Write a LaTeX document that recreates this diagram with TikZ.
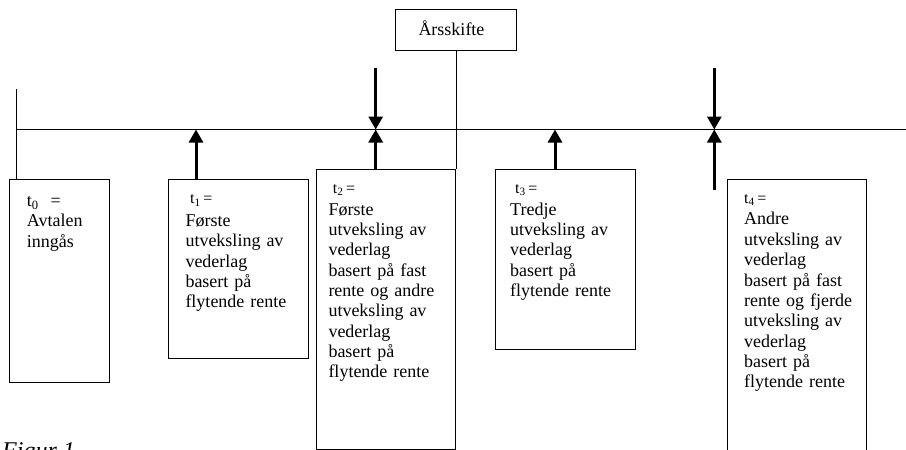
\documentclass[tikz,border=0pt]{standalone}
\usepackage{fontspec}
\setmainfont{Liberation Serif}
\usetikzlibrary{arrows.meta,calc}
\begin{document}
\begin{tikzpicture}[x=1pt,y=-1pt,
  box/.style={draw, line width=1pt, inner sep=0pt, anchor=north west},
  txt/.style={anchor=base west, inner sep=0pt, align=left, text width=125pt, font=\fontsize{18}{20.35}\selectfont},
  thickarrow/.style={line width=3pt, -{Triangle[length=13pt,width=14pt]}},
  thinline/.style={line width=1pt}]
\useasboundingbox (0,0) rectangle (906,450);
\clip (0,0) rectangle (906,450);
\newcommand{\tsz}{\fontsize{16}{20.35}\selectfont}
% boxes
\node[box, minimum width=120.4pt, minimum height=40.7pt] (aars) at (395.3,9.3) {};
\node[box, minimum width=100.2pt, minimum height=203pt] (t0box) at (8.5,179) {};
\node[box, minimum width=139.7pt, minimum height=179pt] (t1box) at (168,179) {};
\node[box, minimum width=139.3pt, minimum height=279.4pt] (t2box) at (316,169.3) {};
\node[box, minimum width=140pt, minimum height=179.7pt] (t3box) at (495,169.3) {};
\node[box, minimum width=139.3pt, minimum height=290pt] (t4box) at (726.7,179) {};
% texts
\node[txt] (aarstxt) at (418.3,35) {Årsskifte};
\node[txt] (t0txt) at (26.7,206.5) {t\textsubscript{0} \ =\\Avtalen\\inngås};
\node[txt] (t1txt) at (185.3,203.5) {\hspace*{4.7pt}{\tsz t\textsubscript{1}\,=}\\[2.6pt]Første\\utveksling av\\vederlag\\basert på\\flytende rente};
\node[txt] (t2txt) at (328.3,193.3) {\hspace*{4.4pt}{\tsz t\textsubscript{2}\,=}\\[1.4pt]Første\\utveksling av\\vederlag\\basert på fast\\rente og andre\\utveksling av\\vederlag\\basert på\\flytende rente};
\node[txt] (t3txt) at (510,193.3) {\hspace*{5pt}{\tsz t\textsubscript{3}\,=}\\[1.4pt]Tredje\\utveksling av\\vederlag\\basert på\\flytende rente};
\node[txt] (t4txt) at (744,203.3) {{\tsz t\textsubscript{4}\,=}\\[1.3pt]Andre\\utveksling av\\vederlag\\basert på fast\\rente og fjerde\\utveksling av\\vederlag\\basert på\\flytende rente};
\node[anchor=base west, inner sep=0pt, font=\fontsize{24}{28}\selectfont\itshape] (fig) at (2,458.6) {Figur 1};
% timeline and points
\coordinate (p0) at (16.5,129.5);
\coordinate (pend) at (906,129.5);
\coordinate (l0top) at (16.5,89);
\coordinate (p1) at (196,129.5);
\coordinate (p2) at (375.7,129.5);
\coordinate (d2) at (375.7,68);
\coordinate (p3) at (555,129.5);
\coordinate (p4) at (714.3,129.5);
\coordinate (d4) at (714.3,68);
\coordinate (u4) at (714.3,190);
\draw[thinline] (p0) -- (pend);
\draw[thinline] (l0top) -- (l0top |- t0box.north);
\draw[thinline] (aars.south -| t2box.east) -- (t2box.north east);
\draw[thickarrow] (p1 |- t1box.north) -- (p1);
\draw[thickarrow] (p2 |- t2box.north) -- (p2);
\draw[thickarrow] (d2) -- (p2);
\draw[thickarrow] (p3 |- t3box.north) -- (p3);
\draw[thickarrow] (d4) -- (p4);
\draw[thickarrow] (u4) -- (p4);
\end{tikzpicture}
\end{document}
